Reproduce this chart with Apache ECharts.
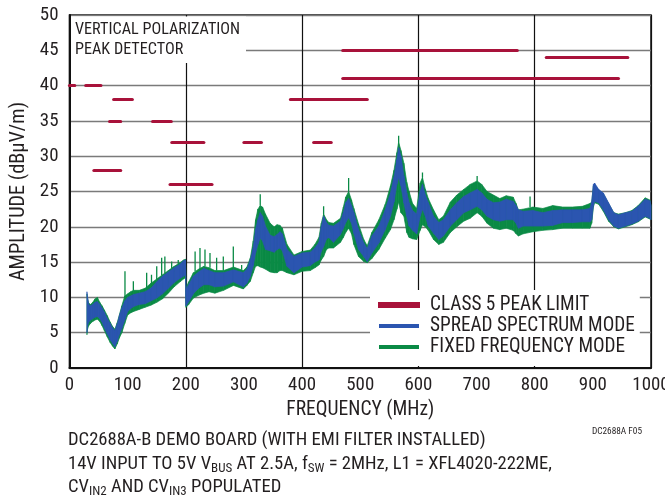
<!DOCTYPE html>
<html><head><meta charset="utf-8">
<script src="https://cdn.jsdelivr.net/npm/echarts@6/dist/echarts.min.js"></script>
<style>html,body{margin:0;padding:0;background:#fff}#c{width:665px;height:498px}</style>
</head><body><div id="c"></div>
<script>
// CLASS 5 peak limit segments (MHz start, MHz end, dBµV/m)
const LIMIT_START = [0, 28, 76, 69, 143, 176, 42, 173, 300, 420, 380, 470, 470, 820];
const LIMIT_END   = [9, 54, 108, 88, 175, 231, 88, 245, 330, 450, 512, 770, 944, 960];
const LIMIT_LEVEL = [40, 40, 38, 35, 35, 32, 28, 26, 32, 32, 38, 45, 41, 44];

// Sample frequencies (MHz) for envelope readings
const FREQ_MHZ = [30,31,33,36,40,44,48,52,56,60,65,70,74,78,82,86,90,95,100,105,110,120,130,140,150,160,170,180,190,196,199.5,200.5,205,213,222,231,240,250,265,282,299,305,311,316,320,324,328,332,337,345,352,357,362,366,374,386,400,414,422,429,433,437,442,446,454,466,471,475,480,485,489,497,506,512,520,532,543,552,558,563,566,570,575,580,584,590,597,603,607,612,617,626,635,643,655,666,678,689,701,709,718,729,740,751,763,768,772,780,797,814,831,848,865,882,895,898,901,903,910,918,927,936,944,956,967,978,990,998,1000];

// Spread spectrum mode: lower / upper envelope (dBµV/m)
const SS_LOW = [5.0,6.0,6.5,6.8,7.0,7.2,7.3,7.0,6.5,5.7,4.8,4.0,3.5,3.0,3.8,4.8,5.6,6.8,8.0,8.4,8.7,9.0,9.1,9.5,9.9,10.5,11.3,12.1,12.7,13.0,13.2,8.8,9.4,10.5,11.3,11.8,11.8,11.5,11.6,12.2,11.5,12.0,13.0,14.5,16.3,17.5,18.4,18.0,16.8,16.6,16.4,16.8,17.0,16.6,14.4,13.5,14.3,14.5,15.0,15.3,16.5,17.2,18.3,18.5,17.8,18.9,19.8,20.6,21.3,20.5,19.1,16.8,15.8,15.1,16.3,17.7,19.6,21.5,23.5,26.0,27.0,25.8,23.4,21.5,20.1,19.5,19.0,21.5,22.5,21.5,20.1,19.1,18.2,18.7,20.1,21.0,22.0,22.4,22.9,22.4,21.5,21.0,20.8,21.0,21.0,20.5,19.8,20.1,20.1,20.1,20.2,20.6,20.6,20.7,20.7,21.0,23.0,23.6,23.4,22.4,21.0,20.1,19.8,20.1,20.4,20.8,21.5,21.2,21.0];
const SS_HIGH = [10.8,10.0,9.0,8.8,9.0,9.3,9.4,9.0,8.5,7.9,7.0,6.3,5.7,5.3,6.2,7.5,8.5,9.5,10.0,10.2,10.4,10.6,10.8,11.3,12.2,13.0,13.6,14.2,14.7,15.2,15.3,11.2,11.8,13.0,13.6,14.1,13.8,13.5,13.5,13.9,13.5,14.0,15.3,17.0,19.6,21.0,22.0,21.5,20.1,18.8,18.6,18.9,19.3,19.0,16.8,15.8,16.3,16.4,17.0,17.8,20.0,21.5,20.6,20.2,20.1,20.8,22.0,23.4,24.0,23.0,22.0,19.6,17.7,16.9,18.7,20.1,22.4,24.8,27.0,29.5,31.2,30.0,27.2,24.8,23.4,22.3,21.8,25.0,26.0,24.5,23.4,21.5,20.6,21.0,22.4,23.4,24.3,24.8,25.3,24.8,23.9,23.4,23.5,23.9,23.6,23.0,22.4,22.2,22.3,22.0,22.3,22.4,22.4,22.4,22.6,23.5,26.0,26.2,25.3,24.8,23.4,22.0,21.7,22.0,22.2,22.9,23.9,23.7,23.0];

// Fixed frequency mode: lower / upper envelope (dBµV/m)
const FF_LOW = [4.7,5.5,6.0,6.3,6.6,6.8,6.9,6.6,6.0,5.3,4.4,3.6,3.1,2.7,3.4,4.3,5.0,6.3,7.5,7.8,8.0,8.3,8.6,8.9,9.3,9.8,10.6,11.5,12.2,12.6,12.8,8.6,9.0,9.9,10.3,10.6,10.8,10.6,11.0,11.7,11.2,11.7,12.3,13.5,14.4,14.5,14.3,14.2,14.0,13.6,13.5,13.5,13.8,13.8,13.5,13.2,13.7,13.8,14.2,14.6,15.3,15.8,16.8,17.0,17.0,17.8,18.5,19.2,19.8,19.0,17.5,15.8,15.1,14.9,15.5,16.8,18.4,19.6,21.0,22.5,23.5,22.0,21.5,19.2,18.5,18.3,18.2,19.5,20.3,20.0,19.5,18.2,17.5,17.8,19.2,20.0,20.8,21.2,22.0,21.5,20.5,19.8,19.6,19.8,19.5,19.0,18.7,19.0,19.3,19.5,19.6,19.8,19.8,19.8,19.8,20.5,22.8,23.4,23.2,22.2,20.8,20.0,19.7,20.0,20.3,20.7,21.4,21.1,21.0];
const FF_HIGH = [10.5,9.9,9.2,9.0,9.3,9.8,10.0,9.3,8.8,8.2,7.4,6.5,5.9,5.5,6.4,7.6,8.8,10.2,10.5,10.8,11.0,11.0,11.3,12.0,12.6,13.2,13.8,14.4,14.9,15.3,15.4,11.4,12.2,13.5,14.0,14.4,14.2,13.8,13.8,14.3,13.8,14.3,15.6,18.0,21.0,22.5,23.0,22.8,21.8,20.5,20.0,20.3,20.2,19.8,17.5,16.0,16.5,16.7,17.5,18.5,20.5,21.8,21.0,20.6,20.5,21.2,22.8,24.2,25.0,23.8,22.6,20.4,18.2,17.3,19.2,21.0,23.2,25.8,28.0,30.5,32.0,30.8,29.0,26.3,25.0,23.3,22.6,26.2,27.0,25.3,24.0,22.4,21.0,21.5,23.5,24.5,25.3,26.0,26.5,26.0,25.0,24.5,24.0,24.4,24.2,23.3,22.4,22.5,22.8,22.6,23.0,22.8,22.8,22.9,23.3,23.5,25.8,26.0,25.2,24.7,23.3,22.0,21.8,22.0,22.3,23.0,24.1,23.8,23.0];

// Narrow spikes of the fixed frequency trace: frequency, foot, tip
const FF_SPIKE_FREQ = [95.4,109.8,132.7,141,150,158.5,164,175.7,187,216,224.4,233,241.6,253,264.5,281.7,296,328,437,480,566,607,701,792];
const FF_SPIKE_FOOT = [10.2,11.0,11.3,12.0,12.6,13.1,13.4,14.1,14.7,13.7,14.0,14.4,14.2,13.8,13.8,14.3,13.9,23.0,21.8,25.0,32.0,27.0,26.5,22.8];
const FF_SPIKE_TIP  = [13.7,12.3,13.5,13.2,14.4,15.6,15.8,15.1,15.3,16.5,17.0,16.8,16.3,15.6,15.8,17.2,14.6,24.6,22.9,26.9,32.9,27.7,27.2,24.3];

const RED = '#A8123A', BLUE = '#2B55B0', GREEN = '#0A8A45', INK = '#231F20';

// ---- font choice: prefer a condensed face, size texts to the reference widths ----
const mctx = document.createElement('canvas').getContext('2d');
function tw(font, s) { mctx.font = font; return mctx.measureText(s).width; }
function hasFace(name) {
  const s = 'SPREAD SPECTRUM MODE 0123456789';
  return Math.abs(tw('100px monospace', s) - tw("100px '" + name + "', monospace", s)) > 0.5 &&
         Math.abs(tw('100px serif', s) - tw("100px '" + name + "', serif", s)) > 0.5;
}
const CANDIDATES = ['Liberation Sans Narrow', 'Arial Narrow', 'Nimbus Sans Narrow', 'Roboto Condensed',
  'Noto Sans Condensed', 'Noto Sans SemiCondensed', 'DejaVu Sans Condensed', 'Open Sans Condensed', 'Liberation Sans'];
let FACE = 'Liberation Sans';
for (const c of CANDIDATES) { if (hasFace(c)) { FACE = c; break; } }
const FONT = "'" + FACE + "', 'Liberation Sans', Arial, sans-serif";
function fit(str, px, maxSize) { const u = tw('100px ' + FONT, str) / 100; return Math.min(maxSize, +(px / u).toFixed(1)); }
const TICK = fit('000', 28, 20);
const LEG = fit('SPREAD SPECTRUM MODE', 205, 20);
const XNAME = fit('FREQUENCY (MHz)', 148, 20);
const YNAME = fit('AMPLITUDE (dBµV/m)', 179, 21);
const BOX = fit('VERTICAL POLARIZATION', 165, 18);
const NOTE = fit('DC2688A-B DEMO BOARD (WITH EMI FILTER INSTALLED)', 417, 19);
const TAG = fit('DC2688A F05', 50, 11);

const chart = echarts.init(document.getElementById('c'));

const limitData = LIMIT_START.map((s, i) => ({coords: [[s, LIMIT_LEVEL[i]], [LIMIT_END[i], LIMIT_LEVEL[i]]]}));
const spikes = [];
FF_SPIKE_FREQ.forEach((f, i) => { spikes.push([f, FF_SPIKE_FOOT[i]], [f, FF_SPIKE_TIP[i]], [f, null]); });

function band(name, lo, hi, color) {
  const data = [];
  for (let i = 0; i < FREQ_MHZ.length - 1; i++) {
    data.push([FREQ_MHZ[i], lo[i], hi[i], FREQ_MHZ[i + 1], lo[i + 1], hi[i + 1]]);
  }
  return {
    type: 'custom', name: name, coordinateSystem: 'cartesian2d', clip: true, silent: true,
    itemStyle: {color: color},
    encode: {x: [0, 3], y: [1, 2, 4, 5]},
    data: data,
    renderItem: function (params, api) {
      const a = api.coord([api.value(0), api.value(2)]);
      const b = api.coord([api.value(3), api.value(5)]);
      const c = api.coord([api.value(3), api.value(4)]);
      const d = api.coord([api.value(0), api.value(1)]);
      return {type: 'polygon', shape: {points: [a, b, c, d]},
        style: {fill: color, stroke: color, lineWidth: 0.7}};
    }
  };
}

chart.setOption({
  animation: false,
  textStyle: {fontFamily: FONT, color: INK},
  grid: {left: 69.5, right: 14, top: 15, bottom: 130, show: true, borderColor: '#111', borderWidth: 1.5,
    containLabel: false, outerBoundsMode: 'none'},
  xAxis: [{
    type: 'value', min: 0, max: 1000, interval: 100,
    axisLine: {show: true, lineStyle: {color: '#111', width: 2}},
    axisTick: {show: false},
    splitLine: {show: false},
    axisLabel: {fontFamily: FONT, fontSize: TICK, color: INK, margin: 8, formatter: v => String(v)},
    name: 'FREQUENCY (MHz)', nameLocation: 'middle', nameGap: 31,
    nameTextStyle: {fontFamily: FONT, fontSize: XNAME, color: INK}
  }, {
    type: 'value', min: 0, max: 1000, interval: 200, position: 'top',
    axisLine: {show: false}, axisTick: {show: false}, axisLabel: {show: false},
    splitLine: {show: true, lineStyle: {color: '#111', width: 1.2}}
  }],
  yAxis: {
    type: 'value', min: 0, max: 50, interval: 5,
    axisLine: {show: true, lineStyle: {color: '#111', width: 2}},
    axisTick: {show: false},
    splitLine: {show: true, lineStyle: {color: '#7a7a7a', width: 1.3}},
    axisLabel: {fontFamily: FONT, fontSize: TICK, color: INK, margin: 11},
    name: 'AMPLITUDE (dBµV/m)', nameLocation: 'middle', nameGap: 40, nameRotate: 90,
    nameTextStyle: {fontFamily: FONT, fontSize: YNAME, color: INK}
  },
  legend: {
    orient: 'vertical', left: 370, top: 290,
    padding: [5, 5, 9, 8], itemGap: 1, itemWidth: 40, itemHeight: 4,
    backgroundColor: '#fff', icon: 'rect', selectedMode: false,
    textStyle: {fontFamily: FONT, fontSize: LEG, color: INK, lineHeight: 20, padding: [0, 0, 0, 6]},
    data: [
      {name: 'CLASS 5 PEAK LIMIT', itemStyle: {color: RED}},
      {name: 'SPREAD SPECTRUM MODE', itemStyle: {color: BLUE}},
      {name: 'FIXED FREQUENCY MODE', itemStyle: {color: GREEN}}
    ]
  },
  series: [
    band('FIXED FREQUENCY MODE', FF_LOW, FF_HIGH, GREEN),
    band('SPREAD SPECTRUM MODE', SS_LOW, SS_HIGH, BLUE),
    {type: 'line', name: 'ffspikes', data: spikes, showSymbol: false, symbol: 'none', connectNulls: false,
      silent: true, lineStyle: {color: GREEN, width: 1.3}},
    {type: 'lines', name: 'CLASS 5 PEAK LIMIT', coordinateSystem: 'cartesian2d', data: limitData,
      lineStyle: {color: RED, width: 3.2, opacity: 1, cap: 'round'}, itemStyle: {color: RED}, z: 3}
  ],
  graphic: [
    {type: 'rect', z: 5, shape: {x: 71, y: 16.5, width: 175, height: 46.5}, style: {fill: '#fff'}},
    {type: 'text', z: 6, x: 75, y: 30, style: {text: 'VERTICAL POLARIZATION', font: BOX + 'px ' + FONT, fill: INK, verticalAlign: 'middle'}},
    {type: 'text', z: 6, x: 75, y: 50, style: {text: 'PEAK DETECTOR', font: BOX + 'px ' + FONT, fill: INK, verticalAlign: 'middle'}},
    {type: 'text', z: 6, x: 642, y: 432, style: {text: 'DC2688A F05', font: TAG + 'px ' + FONT, fill: INK, align: 'right', verticalAlign: 'middle'}},
    {type: 'text', z: 6, x: 68, y: 440, style: {text: 'DC2688A-B DEMO BOARD (WITH EMI FILTER INSTALLED)', font: NOTE + 'px ' + FONT, fill: INK, verticalAlign: 'middle'}},
    {type: 'text', z: 6, x: 68, y: 453, style: {
      text: '14V INPUT TO 5V V{s|BUS} AT 2.5A, f{s|SW} = 2MHz, L1 = XFL4020-222ME,',
      fontFamily: FONT, fontSize: NOTE, lineHeight: 22, fill: INK, verticalAlign: 'top',
      rich: {s: {fontFamily: FONT, fontSize: Math.round(NOTE * 0.68), lineHeight: 12, verticalAlign: 'bottom', fill: INK}}}},
    {type: 'text', z: 6, x: 68, y: 476, style: {
      text: 'CV{s|IN2} AND CV{s|IN3} POPULATED',
      fontFamily: FONT, fontSize: NOTE, lineHeight: 22, fill: INK, verticalAlign: 'top',
      rich: {s: {fontFamily: FONT, fontSize: Math.round(NOTE * 0.68), lineHeight: 12, verticalAlign: 'bottom', fill: INK}}}}
  ]
});
</script>
</body></html>
